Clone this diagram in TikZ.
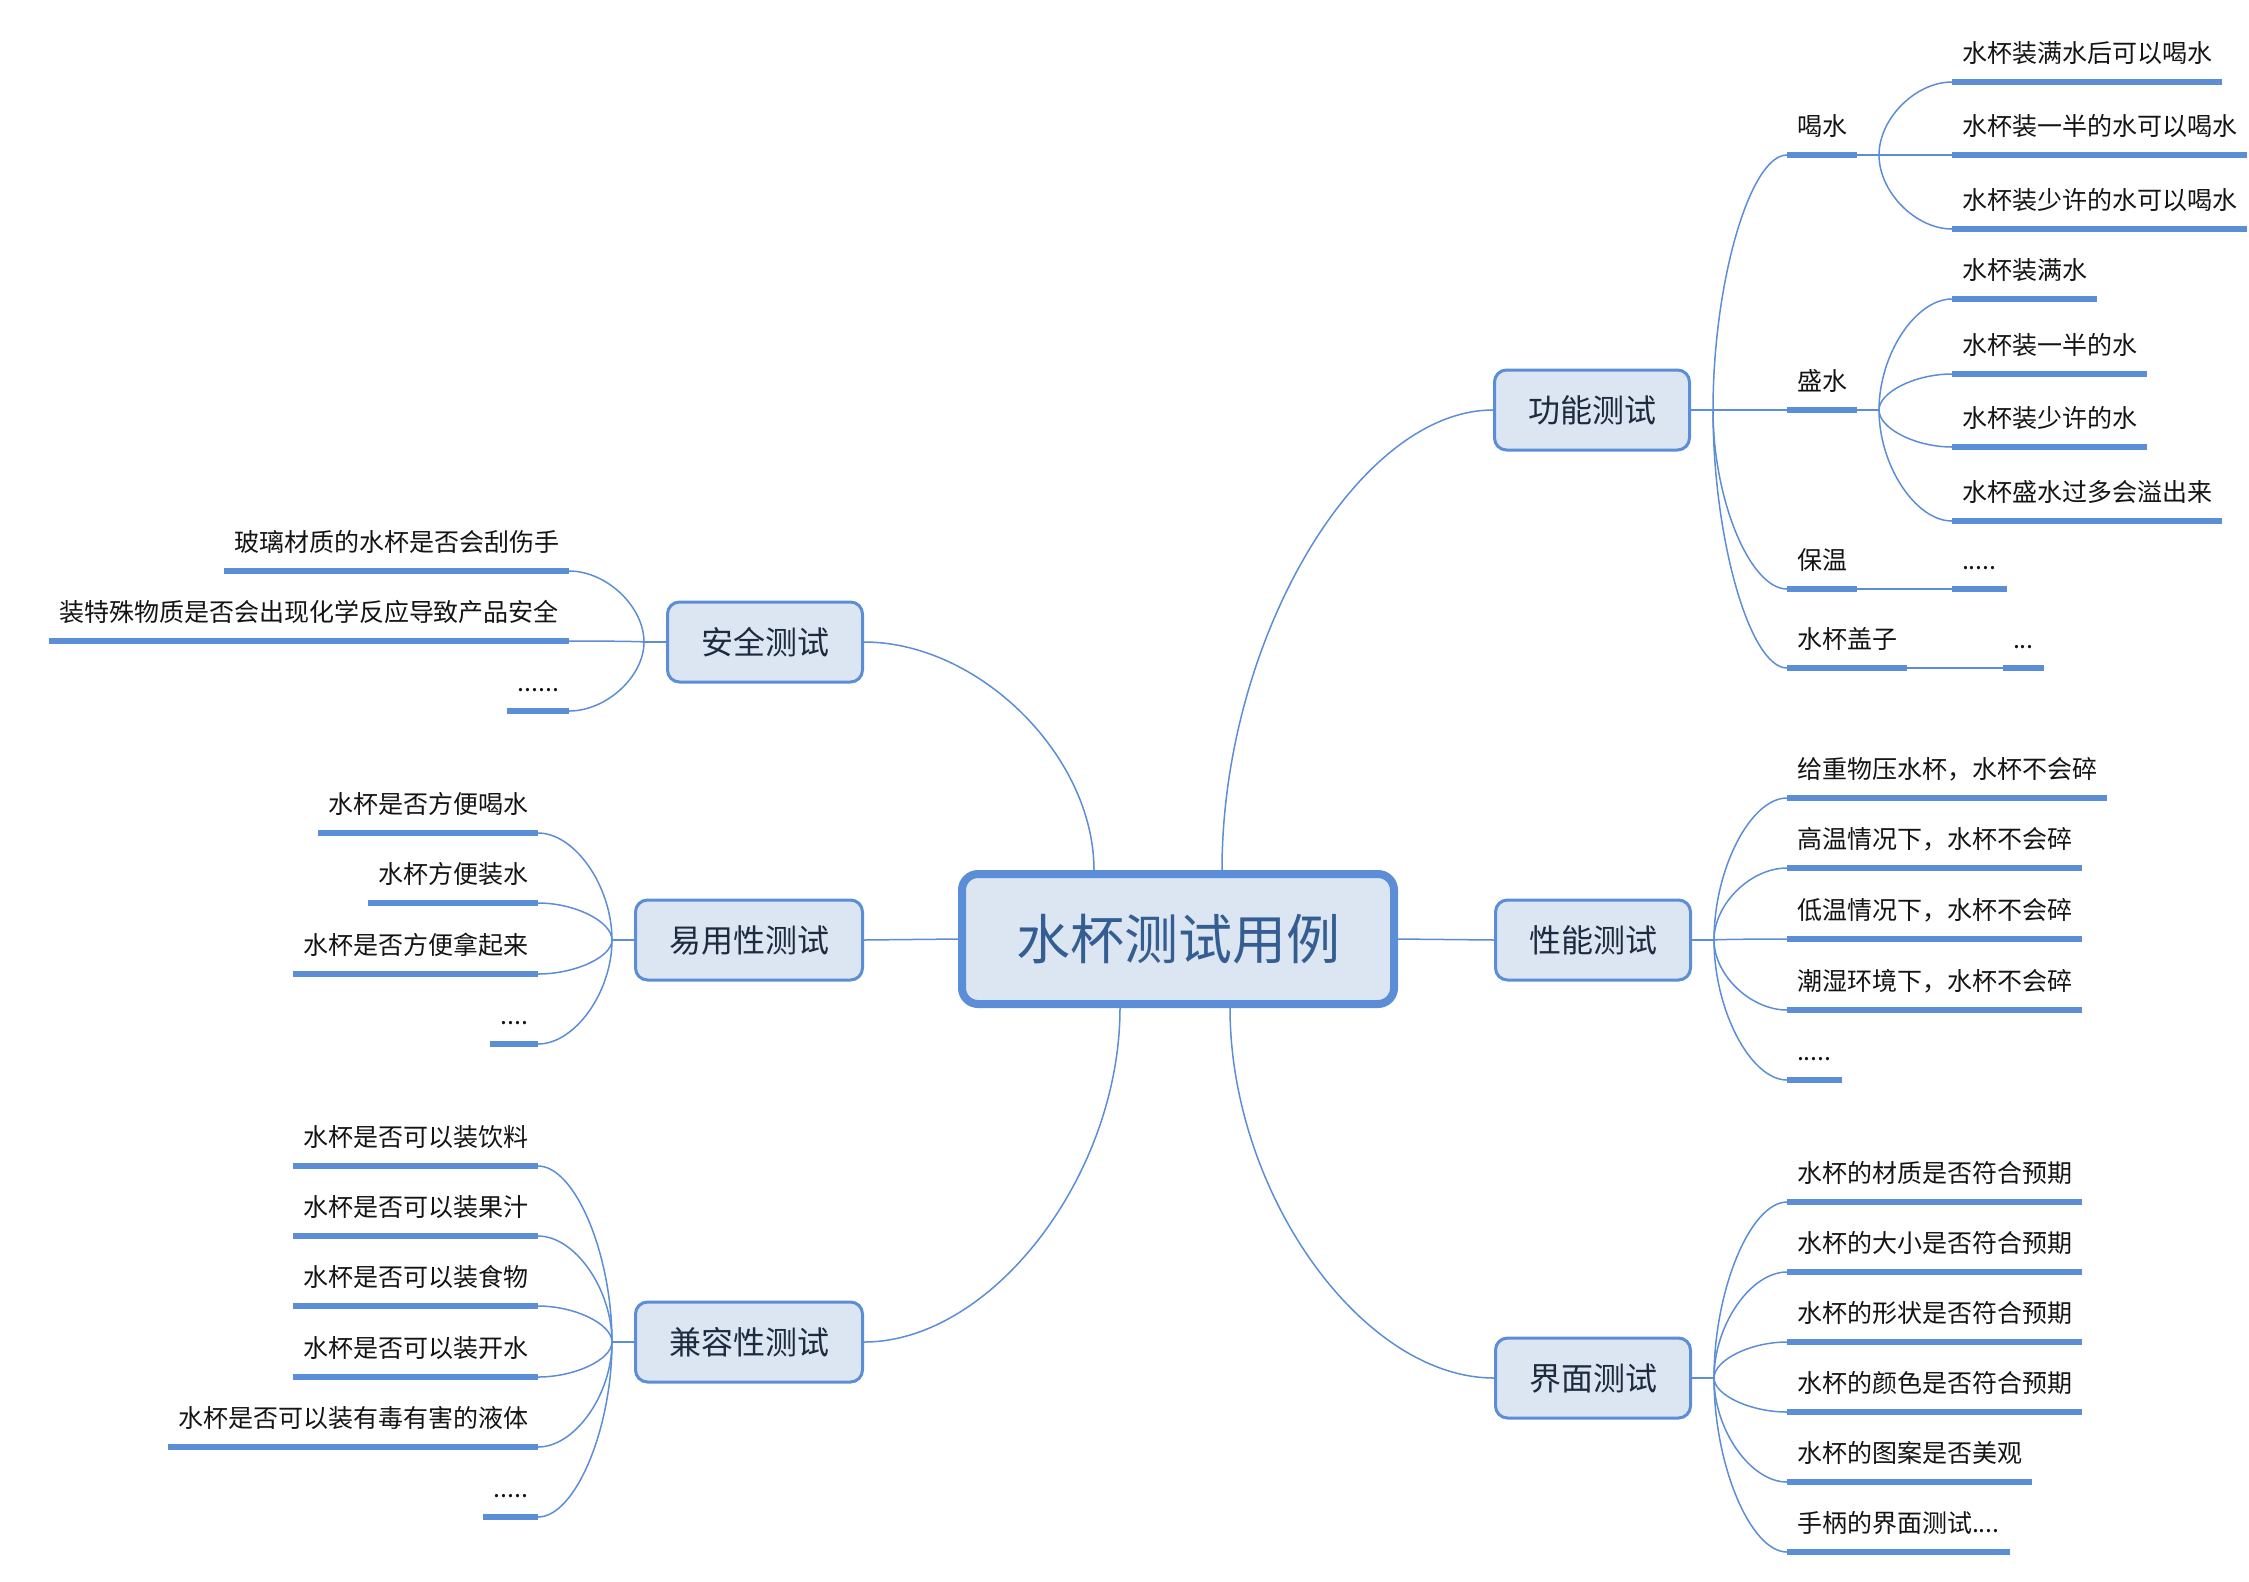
\documentclass[tikz,border=0pt]{standalone}
\usepackage{fontspec}
\newfontfamily\cjk{Noto Sans CJK SC}
\usetikzlibrary{calc}
\definecolor{linec}{RGB}{91,142,214}
\definecolor{boxfill}{RGB}{220,230,242}
\definecolor{titlec}{RGB}{52,94,146}
\definecolor{topicc}{RGB}{30,42,62}
\definecolor{leafc}{RGB}{20,20,20}
\tikzset{
  conn/.style={draw=linec, line width=0.75pt},
  curvy/.style={to path={.. controls ($(\tikztostart)!0.5!(\tikztostart|-\tikztotarget)$) and ($(\tikztotarget)!0.5!(\tikztostart|-\tikztotarget)$) .. (\tikztotarget)}},
  uline/.style={draw=linec, line width=2.7pt},
  root/.style={draw=linec, line width=4pt, fill=boxfill, rounded corners=8pt,
    minimum width=216pt, minimum height=65pt, text=titlec,
    font=\cjk\fontsize{27}{32}\selectfont},
  topic/.style={draw=linec, line width=1.5pt, fill=boxfill, rounded corners=6pt,
    inner xsep=16.75pt, minimum height=40pt, text=topicc,
    font=\cjk\fontsize{16}{19}\selectfont},
  leaf/.style={inner xsep=5pt, inner ysep=9.6pt, outer sep=0pt, text depth=0pt,
    text=leafc, font=\cjk\fontsize{12.5}{15}\selectfont},
  rleaf/.style={leaf, anchor=south west},
  lleaf/.style={leaf, anchor=south east}
}
\begin{document}
\begin{tikzpicture}[x=0.5pt, y=0.5pt]
  \useasboundingbox (0,0) rectangle (2249,-1581);
  \node[root] (root) at (1178,-939) {水杯测试用例};

  \node[topic, anchor=west] (gn) at (1493,-410) {功能测试};
  \node[topic, anchor=west] (xn) at (1494,-940) {性能测试};
  \node[topic, anchor=west] (jm) at (1494,-1378) {界面测试};
  \node[topic, anchor=east] (aq) at (864,-642) {安全测试};
  \node[topic, anchor=east] (yy) at (864,-940) {易用性测试};
  \node[topic, anchor=east] (jr) at (864,-1342) {兼容性测试};

  \coordinate (fgn) at ([xshift=11pt]gn.east);
  \coordinate (fxn) at ([xshift=11pt]xn.east);
  \coordinate (fjm) at ([xshift=11pt]jm.east);
  \coordinate (faq) at ([xshift=-11pt]aq.west);
  \coordinate (fyy) at ([xshift=-11pt]yy.west);
  \coordinate (fjr) at ([xshift=-11pt]jr.west);

  % 功能测试
  \node[rleaf] (hs) at (1787,-155) {喝水};
  \node[rleaf] (ss) at (1787,-410) {盛水};
  \node[rleaf] (bw) at (1787,-589) {保温};
  \node[rleaf] (gz) at (1787,-668) {水杯盖子};
  \node[rleaf] (hs1) at (1952,-82) {水杯装满水后可以喝水};
  \node[rleaf] (hs2) at (1952,-155) {水杯装一半的水可以喝水};
  \node[rleaf] (hs3) at (1952,-229) {水杯装少许的水可以喝水};
  \node[rleaf] (ss1) at (1952,-299) {水杯装满水};
  \node[rleaf] (ss2) at (1952,-374) {水杯装一半的水};
  \node[rleaf] (ss3) at (1952,-447) {水杯装少许的水};
  \node[rleaf] (ss4) at (1952,-521) {水杯盛水过多会溢出来};
  \node[rleaf] (bw1) at (1952,-589) {.....};
  \node[rleaf] (gz1) at (2003,-668) {...};
  \coordinate (fhs) at ([xshift=11pt]hs.south east);
  \coordinate (fss) at ([xshift=11pt]ss.south east);

  % 性能测试
  \node[rleaf] (xn1) at (1787,-798) {给重物压水杯，水杯不会碎};
  \node[rleaf] (xn2) at (1787,-868) {高温情况下，水杯不会碎};
  \node[rleaf] (xn3) at (1787,-939) {低温情况下，水杯不会碎};
  \node[rleaf] (xn4) at (1787,-1010) {潮湿环境下，水杯不会碎};
  \node[rleaf] (xn5) at (1787,-1080) {.....};

  % 界面测试
  \node[rleaf] (jm1) at (1787,-1202) {水杯的材质是否符合预期};
  \node[rleaf] (jm2) at (1787,-1272) {水杯的大小是否符合预期};
  \node[rleaf] (jm3) at (1787,-1342) {水杯的形状是否符合预期};
  \node[rleaf] (jm4) at (1787,-1412) {水杯的颜色是否符合预期};
  \node[rleaf] (jm5) at (1787,-1482) {水杯的图案是否美观};
  \node[rleaf] (jm6) at (1787,-1552) {手柄的界面测试....};

  % 安全测试
  \node[lleaf] (aq1) at (569,-571) {玻璃材质的水杯是否会刮伤手};
  \node[lleaf] (aq2) at (569,-641) {装特殊物质是否会出现化学反应导致产品安全};
  \node[lleaf] (aq3) at (569,-711) {......};

  % 易用性测试
  \node[lleaf] (yy1) at (538,-833) {水杯是否方便喝水};
  \node[lleaf] (yy2) at (538,-903) {水杯方便装水};
  \node[lleaf] (yy3) at (538,-974) {水杯是否方便拿起来};
  \node[lleaf] (yy4) at (538,-1044) {....};

  % 兼容性测试
  \node[lleaf] (jr1) at (538,-1166) {水杯是否可以装饮料};
  \node[lleaf] (jr2) at (538,-1236) {水杯是否可以装果汁};
  \node[lleaf] (jr3) at (538,-1306) {水杯是否可以装食物};
  \node[lleaf] (jr4) at (538,-1377) {水杯是否可以装开水};
  \node[lleaf] (jr5) at (538,-1447) {水杯是否可以装有毒有害的液体};
  \node[lleaf] (jr6) at (538,-1517) {.....};

  \draw[conn] ([xshift=22pt]root.north) to[curvy] (gn.west);
  \draw[conn] (root.east) -- (xn.west);
  \draw[conn] ([xshift=26pt]root.south) to[curvy] (jm.west);
  \draw[conn] ([xshift=-42pt]root.north) to[curvy] (aq.east);
  \draw[conn] (root.west) -- (yy.east);
  \draw[conn] ([xshift=-29pt]root.south) to[curvy] (jr.east);

  \draw[conn] (gn.east) -- (fgn);
  \draw[conn] (xn.east) -- (fxn);
  \draw[conn] (jm.east) -- (fjm);
  \draw[conn] (aq.west) -- (faq);
  \draw[conn] (yy.west) -- (fyy);
  \draw[conn] (jr.west) -- (fjr);
  \draw[conn] (hs.south east) -- (fhs);
  \draw[conn] (ss.south east) -- (fss);

  \foreach \n in {hs,ss,bw,gz}
    \draw[conn] (fgn) to[curvy] (\n.south west);
  \foreach \n in {hs1,hs2,hs3}
    \draw[conn] (fhs) to[curvy] (\n.south west);
  \foreach \n in {ss1,ss2,ss3,ss4}
    \draw[conn] (fss) to[curvy] (\n.south west);
  \draw[conn] (bw.south east) -- (bw1.south west);
  \draw[conn] (gz.south east) -- (gz1.south west);
  \foreach \n in {xn1,xn2,xn3,xn4,xn5}
    \draw[conn] (fxn) to[curvy] (\n.south west);
  \foreach \n in {jm1,jm2,jm3,jm4,jm5,jm6}
    \draw[conn] (fjm) to[curvy] (\n.south west);
  \foreach \n in {aq1,aq2,aq3}
    \draw[conn] (faq) to[curvy] (\n.south east);
  \foreach \n in {yy1,yy2,yy3,yy4}
    \draw[conn] (fyy) to[curvy] (\n.south east);
  \foreach \n in {jr1,jr2,jr3,jr4,jr5,jr6}
    \draw[conn] (fjr) to[curvy] (\n.south east);

  \foreach \n in {hs,ss,bw,gz,hs1,hs2,hs3,ss1,ss2,ss3,ss4,bw1,gz1,
      xn1,xn2,xn3,xn4,xn5,jm1,jm2,jm3,jm4,jm5,jm6,
      aq1,aq2,aq3,yy1,yy2,yy3,yy4,jr1,jr2,jr3,jr4,jr5,jr6}
    \draw[uline] (\n.south west) -- (\n.south east);
\end{tikzpicture}
\end{document}
